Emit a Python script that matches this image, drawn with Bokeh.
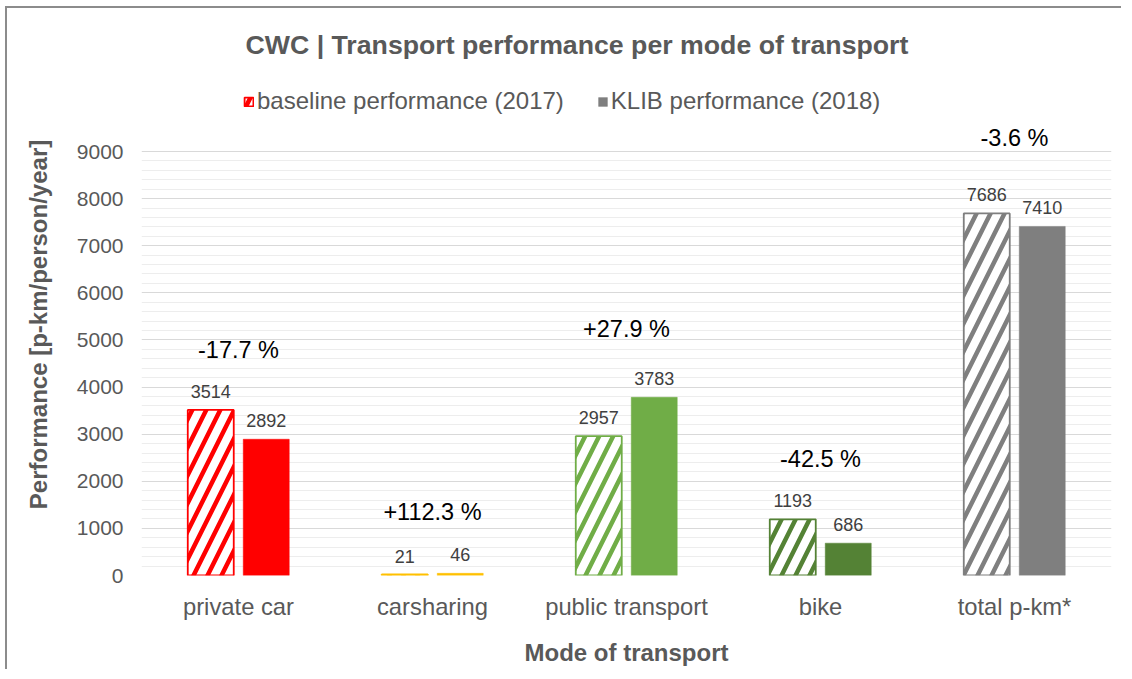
from bokeh.plotting import figure
from bokeh.models import (ColumnDataSource, FactorRange, Range1d, FixedTicker, Legend,
                          LegendItem, Title)
from bokeh.transform import dodge
from bokeh.core.properties import value
from bokeh.embed import file_html
from bokeh.resources import INLINE

# ---- data ----
categories = ["private car", "carsharing", "public transport", "bike", "total p-km*"]
baseline_2017 = [3514, 21, 2957, 1193, 7686]
klib_2018 = [2892, 46, 3783, 686, 7410]
change_labels = ["-17.7 %", "+112.3 %", "+27.9 %", "-42.5 %", "-3.6 %"]
change_label_y = [4780, 1340, 5240, 2480, 9280]
bar_colors = ["#FF0000", "#FFC000", "#70AD47", "#548235", "#7F7F7F"]
y_ticks = [0, 1000, 2000, 3000, 4000, 5000, 6000, 7000, 8000, 9000]

FONT = "Liberation Sans"
GREY = "#595959"

src = ColumnDataSource(dict(
    cat=categories,
    base=baseline_2017,
    klib=klib_2018,
    base_lbl=[str(v) for v in baseline_2017],
    klib_lbl=[str(v) for v in klib_2018],
    color=bar_colors,
    chg=change_labels,
    chg_y=change_label_y,
))

p = figure(width=1116, height=663, output_backend="svg", toolbar_location=None,
           x_range=FactorRange(factors=categories, range_padding=0),
           y_range=Range1d(0, 10656), title=None,
           min_border_left=134, min_border_right=12, min_border_top=65,
           min_border_bottom=96)
p.outline_line_color = None
p.background_fill_color = "white"
p.border_fill_color = "white"

# bars
r_base = p.vbar(x=dodge("cat", -0.143, range=p.x_range), top="base", width=0.237,
                source=src, fill_color="white", line_color="color", line_width=1.8,
                hatch_pattern="right_diagonal_line", hatch_color="color",
                hatch_scale=28, hatch_weight=4.5)
r_klib = p.vbar(x=dodge("cat", 0.143, range=p.x_range), top="klib", width=0.237,
                source=src, fill_color="color", line_color="color", line_width=0.5)

# value labels
p.text(x=dodge("cat", -0.143, range=p.x_range), y="base", text="base_lbl", source=src,
       text_align="center", text_baseline="bottom", y_offset=-12,
       text_font=value(FONT), text_font_size="18px", text_color="#404040")
p.text(x=dodge("cat", 0.143, range=p.x_range), y="klib", text="klib_lbl", source=src,
       text_align="center", text_baseline="bottom", y_offset=-12,
       text_font=value(FONT), text_font_size="18px", text_color="#404040")

# change labels
p.text(x="cat", y="chg_y", text="chg", source=src, text_align="center",
       text_baseline="middle", text_font=value(FONT), text_font_size="23.5px",
       text_color="#000000")

# axes
p.yaxis.ticker = FixedTicker(ticks=y_ticks,
                             minor_ticks=[v for v in range(0, 9001, 200) if v % 1000])
p.yaxis.axis_line_color = None
p.yaxis.major_tick_line_color = None
p.yaxis.minor_tick_line_color = None
p.yaxis.major_label_standoff = 12
p.yaxis.major_label_text_font = FONT
p.yaxis.major_label_text_font_size = "21px"
p.yaxis.major_label_text_color = GREY
p.yaxis.axis_label = "Performance [p-km/person/year]"
p.yaxis.axis_label_text_font = FONT
p.yaxis.axis_label_text_font_size = "24px"
p.yaxis.axis_label_text_font_style = "bold"
p.yaxis.axis_label_text_color = GREY
p.yaxis.axis_label_standoff = 22

p.xaxis.axis_line_color = None
p.xaxis.major_tick_line_color = None
p.xaxis.minor_tick_line_color = None
p.xaxis.major_label_standoff = 11
p.xaxis.major_label_text_font = FONT
p.xaxis.major_label_text_font_size = "23.8px"
p.xaxis.major_label_text_color = GREY
p.xaxis.axis_label = "Mode of transport"
p.xaxis.axis_label_text_font = FONT
p.xaxis.axis_label_text_font_size = "24px"
p.xaxis.axis_label_text_font_style = "bold"
p.xaxis.axis_label_text_color = GREY
p.xaxis.axis_label_standoff = 16

p.xgrid.visible = False
p.ygrid.grid_line_color = "#D9D9D9"
p.ygrid.grid_line_width = 1
p.ygrid.minor_grid_line_color = "#EDEDED"
p.ygrid.minor_grid_line_width = 1

# legend
legend = Legend(items=[
    LegendItem(label="baseline performance (2017)", renderers=[r_base], index=0),
    LegendItem(label="KLIB performance (2018)", renderers=[r_klib], index=4),
], orientation="horizontal", location=(102, 460), margin=0, padding=0,
    spacing=33, label_standoff=3, glyph_width=11, glyph_height=11, label_height=28,
    label_text_font=FONT, label_text_font_size="24px", label_text_color=GREY,
    border_line_color=None, background_fill_alpha=0)
p.add_layout(legend, "center")

# title
title = Title(text="CWC | Transport performance per mode of transport", align="left",
              offset=104, standoff=27, text_font=FONT, text_font_size="26.7px",
              text_font_style="bold", text_color=GREY)
p.add_layout(title, "above")

p.styles = {"margin-left": "5px", "margin-top": "6px",
            "border-left": "2px solid #8C8C8C", "border-top": "2px solid #8C8C8C"}

open("out.html", "w").write(file_html(p, INLINE))
